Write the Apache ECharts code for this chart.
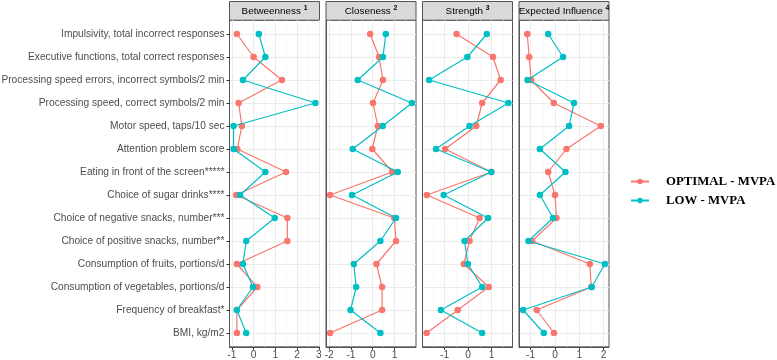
<!DOCTYPE html>
<html>
<head>
<meta charset="utf-8">
<script src="https://cdn.jsdelivr.net/npm/echarts@6/dist/echarts.min.js"></script>
<style>
  html, body { margin: 0; padding: 0; background: #fff; }
  #chart { width: 777px; height: 360px; }
</style>
</head>
<body>
<div id="chart"></div>
<script>
const categories = [
  'Impulsivity, total incorrect responses',
  'Executive functions, total correct responses',
  'Processing speed errors, incorrect symbols/2 min',
  'Processing speed, correct symbols/2 min',
  'Motor speed, taps/10 sec',
  'Attention problem score',
  'Eating in front of the screen*****',
  'Choice of sugar drinks****',
  'Choice of negative snacks, number***',
  'Choice of positive snacks, number**',
  'Consumption of fruits, portions/d',
  'Consumption of vegetables, portions/d',
  'Frequency of breakfast*',
  'BMI, kg/m2'
]

const betweennessOptimal = [-0.77, 0.0, 1.30, -0.69, -0.54, -0.75, 1.49, -0.80, 1.55, 1.55, -0.77, 0.17, -0.77, -0.77]
const betweennessLow = [0.24, 0.54, -0.49, 2.84, -0.92, -0.92, 0.54, -0.62, 0.97, -0.34, -0.49, -0.03, -0.77, -0.34]
const closenessOptimal = [-0.12, 0.29, 0.47, 0.01, 0.23, -0.02, 0.90, -1.96, 0.99, 1.07, 0.17, 0.43, 0.43, -1.96]
const closenessLow = [0.60, 0.47, -0.69, 1.80, 0.46, -0.92, 1.15, -0.95, 1.07, 0.35, -0.87, -0.76, -1.02, 0.35]
const strengthOptimal = [-0.49, 1.06, 1.39, 0.60, 0.35, -0.98, 0.99, -1.76, 0.49, 0.06, -0.18, 0.88, -0.44, -1.77]
const strengthLow = [0.80, -0.03, -1.66, 1.72, 0.06, -1.37, 0.99, -1.04, 0.85, -0.15, -0.01, 0.60, -1.16, 0.60]
const influenceOptimal = [-1.14, -1.06, -0.98, -0.05, 1.88, 0.47, -0.28, 0.00, 0.06, -0.94, 1.43, 1.49, -0.75, -0.04]
const influenceLow = [-0.28, 0.33, -1.13, 0.78, 0.58, -0.62, 0.43, -0.62, -0.08, -1.09, 2.05, 1.51, -1.31, -0.46]

const betweennessTicks = [-1, 0, 1, 2, 3]
const closenessTicks = [-2, -1, 0, 1, 2]
const strengthTicks = [-1, 0, 1]
const influenceTicks = [-1, 0, 1, 2]

const groupNames = ['OPTIMAL - MVPA', 'LOW - MVPA']
const colors = ['#F8766D', '#00BFC4']

const panels = [
  { title: 'Betweenness', sup: '1', optimal: betweennessOptimal, low: betweennessLow, ticks: betweennessTicks, min: -1.108, max: 3.028 },
  { title: 'Closeness', sup: '2', optimal: closenessOptimal, low: closenessLow, ticks: closenessTicks, min: -2.148, max: 1.988 },
  { title: 'Strength', sup: '3', optimal: strengthOptimal, low: strengthLow, ticks: strengthTicks, min: -1.945, max: 1.895 },
  { title: 'Expected Influence', sup: '4', optimal: influenceOptimal, low: influenceLow, ticks: influenceTicks, min: -1.478, max: 2.218 }
]

const rows = categories.map((c, i) => i)
const panelLeft = [229.5, 326, 422.5, 519]
const panelWidth = 90
const panelTop = 20.2
const panelHeight = 326.6
const font = 'Liberation Sans'

// ggplot style minor breaks: halfway between majors, one more on each side
function minorBreaks(ticks, min, max) {
  const out = []
  const step = ticks[1] - ticks[0]
  for (let v = ticks[0] - step / 2; v <= ticks[ticks.length - 1] + step / 2; v += step) {
    if (v > min && v < max) out.push(v)
  }
  return out
}

const grid = []
const xAxis = []
const yAxis = []
const series = []
const graphic = []

panels.forEach((p, k) => {
  grid.push({
    left: panelLeft[k], top: panelTop, width: panelWidth, height: panelHeight,
    show: true, borderColor: '#555', borderWidth: 1, backgroundColor: '#fff',
    outerBoundsMode: 'none'
  })
  xAxis.push({
    type: 'value', gridIndex: k, min: p.min, max: p.max, position: 'bottom',
    axisLine: { show: true, onZero: false, lineStyle: { color: '#555', width: 1 } },
    axisTick: { show: true, length: 3, lineStyle: { color: '#333' }, customValues: p.ticks },
    axisLabel: { customValues: p.ticks, margin: 3, fontSize: 10.2, color: '#4d4d4d', fontFamily: font },
    splitLine: { show: true, lineStyle: { color: '#EBEBEB', width: 1 } }
  })
  xAxis.push({
    type: 'value', gridIndex: k, min: p.min, max: p.max, position: 'bottom',
    axisLine: { show: false, onZero: false },
    axisTick: { show: false, customValues: minorBreaks(p.ticks, p.min, p.max) },
    axisLabel: { show: false },
    splitLine: { show: true, lineStyle: { color: '#F5F5F5', width: 0.6 } }
  })
  yAxis.push({
    type: 'value', gridIndex: k, min: -0.6, max: 13.6, inverse: true, position: 'left',
    axisLine: { show: true, onZero: false, lineStyle: { color: '#555', width: 1 } },
    axisTick: { show: k === 0, length: 3, lineStyle: { color: '#333' }, customValues: rows },
    axisLabel: {
      show: k === 0, customValues: rows, margin: 5,
      fontSize: 10.2, color: '#4d4d4d', fontFamily: font,
      formatter: v => categories[v]
    },
    splitLine: { show: true, lineStyle: { color: '#EBEBEB', width: 1 } }
  })
  ;[p.optimal, p.low].forEach((vals, g) => {
    series.push({
      name: groupNames[g], type: 'line',
      xAxisIndex: 2 * k, yAxisIndex: k,
      data: vals.map((v, i) => [v, i]),
      symbol: 'circle', symbolSize: 6.5,
      lineStyle: { width: 1.2, color: colors[g] },
      itemStyle: { color: colors[g] },
      z: 3 + g
    })
  })
  // facet strip
  graphic.push({
    type: 'rect',
    shape: { x: panelLeft[k], y: 1.5, width: panelWidth, height: panelTop - 1.5 },
    style: { fill: '#D9D9D9', stroke: '#555', lineWidth: 1 }
  })
  graphic.push({
    type: 'text',
    x: panelLeft[k] + panelWidth / 2, y: 11,
    style: {
      text: '{t|' + p.title + ' }{s|' + p.sup + '}',
      align: 'center', verticalAlign: 'middle',
      rich: {
        t: { fontSize: 9.9, fontFamily: font, color: '#1a1a1a' },
        s: { fontSize: 6.8, fontFamily: font, fontWeight: 'bold', color: '#1a1a1a', padding: [0, 0, 5, 0] }
      }
    }
  })
})

const chart = echarts.init(document.getElementById('chart'))
chart.setOption({
  animation: false,
  grid, xAxis, yAxis, series, graphic,
  legend: {
    data: groupNames,
    orient: 'vertical', left: 625, top: 170,
    itemWidth: 18, itemHeight: 7, itemGap: 6,
    textStyle: {
      fontFamily: 'Liberation Serif', fontWeight: 'bold', fontSize: 12.8,
      color: '#000', padding: [0, 0, 0, 12]
    }
  }
})
</script>
</body>
</html>
